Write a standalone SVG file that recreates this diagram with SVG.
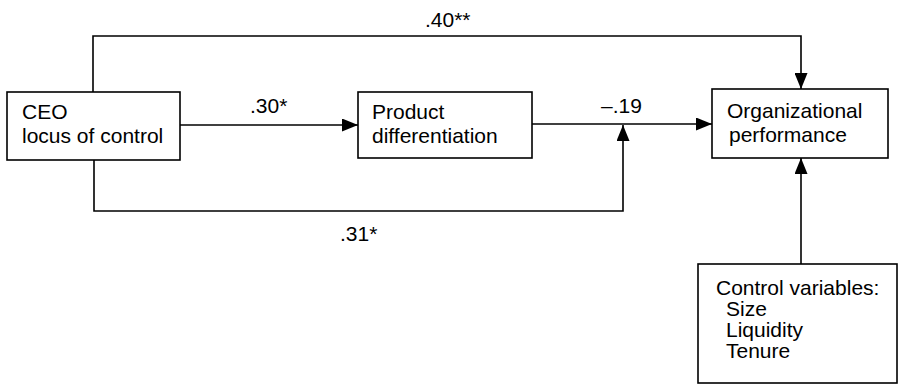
<svg xmlns="http://www.w3.org/2000/svg" width="899" height="385" viewBox="0 0 899 385">
<defs>
<style>
.box{fill:#fff;stroke:#000;stroke-width:1.6}
.ln{fill:none;stroke:#000;stroke-width:1.6}
text{font-family:"Liberation Sans",Arial,sans-serif;font-size:21px;fill:#000}
</style>
<marker id="ah" markerWidth="16" markerHeight="13" refX="16" refY="6.5" orient="auto" markerUnits="userSpaceOnUse">
<path d="M0,0 L16,6.5 L0,13 Z" fill="#000"/>
</marker>
</defs>
<rect width="899" height="385" fill="#fff"/>
<g id="connectors">
<path class="ln" d="M93,92 V36 H801 V89" marker-end="url(#ah)"/>
<path class="ln" d="M180,125 H358" marker-end="url(#ah)"/>
<path class="ln" d="M532,124 H712" marker-end="url(#ah)"/>
<path class="ln" d="M94,160 V211 H623 V125" marker-end="url(#ah)"/>
<path class="ln" d="M801,264 V158" marker-end="url(#ah)"/>
<text x="425" y="27">.40**</text>
<text x="250" y="113">.30*</text>
<text x="601" y="113">–.19</text>
<text x="340" y="241">.31*</text>
</g>
<g id="ceo">
<rect class="box" x="7" y="92" width="173" height="68"/>
<text x="22" y="119">CEO</text>
<text x="22" y="143">locus of control</text>
</g>
<g id="product">
<rect class="box" x="358" y="92" width="174" height="66"/>
<text x="372" y="119">Product</text>
<text x="372" y="143">differentiation</text>
</g>
<g id="org">
<rect class="box" x="712" y="89" width="176" height="69"/>
<text x="727" y="118">Organizational</text>
<text x="729" y="142">performance</text>
</g>
<g id="controls">
<rect class="box" x="698" y="264" width="199" height="119"/>
<text x="716" y="295">Control variables:</text>
<text x="726" y="316">Size</text>
<text x="726" y="337">Liquidity</text>
<text x="726" y="358">Tenure</text>
</g>
</svg>
